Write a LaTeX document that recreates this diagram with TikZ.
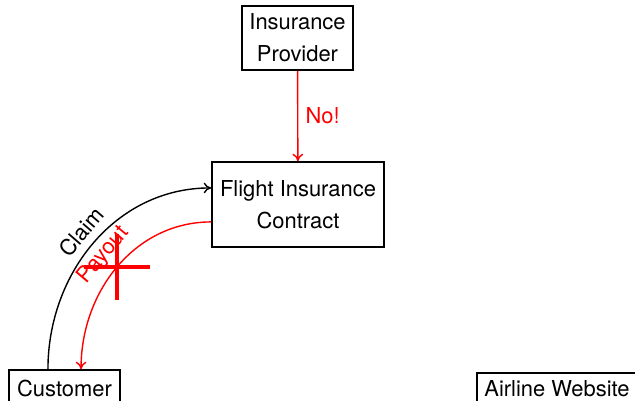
\documentclass[tikz,border=0pt]{standalone}
\usepackage{fontspec}
\setmainfont{TeX Gyre Heros}
\usetikzlibrary{arrows.meta}
\begin{document}
\begin{tikzpicture}[x=0.4651pt,y=0.4651pt,
  font=\fontsize{10.2pt}{14.9pt}\selectfont,
  box/.style={draw, line width=0.75pt, inner sep=0pt, align=center},
  flow/.style={-{To[length=3.5pt,width=5pt]}, line width=0.65pt},
  deny/.style={flow, red},
  bar/.style={red, line width=1.9pt}]
\useasboundingbox (0,0) rectangle (635,400);
\clip (0,0) rectangle (635,400);

% parties and the contract
\node[box, minimum width=51.6pt, minimum height=29.8pt] (ip) at (297.5,362) {Insurance\\Provider};
\node[box, minimum width=80pt, minimum height=39.5pt] (fic) at (298,195.5) {Flight Insurance\\Contract};
\node[box, minimum width=51.6pt, minimum height=17pt] (cust) at (64.5,11.7) {Customer};
\node[box, minimum width=74.4pt, minimum height=14.2pt] (air) at (557,11.7) {Airline Website};

% the provider refuses
\draw[deny] (ip) -- node[right] {No!} (fic);

% claim goes in
\draw[flow] ([xshift=-7.7pt]cust.north) to[out=90,in=180]
  node[midway, sloped, above] {Claim} ([yshift=7.7pt]fic.west);

% payout comes back, crossed out
\draw[deny] ([yshift=-8.1pt]fic.west) to[out=180,in=90]
  node[midway, sloped, above] {Payout}
  coordinate[midway] (x) ([xshift=7.7pt]cust.north);
\draw[bar] ([xshift=-15.3pt]x) -- ([xshift=15.3pt]x);
\draw[bar] ([yshift=-15.3pt]x) -- ([yshift=15.3pt]x);
\end{tikzpicture}
\end{document}
